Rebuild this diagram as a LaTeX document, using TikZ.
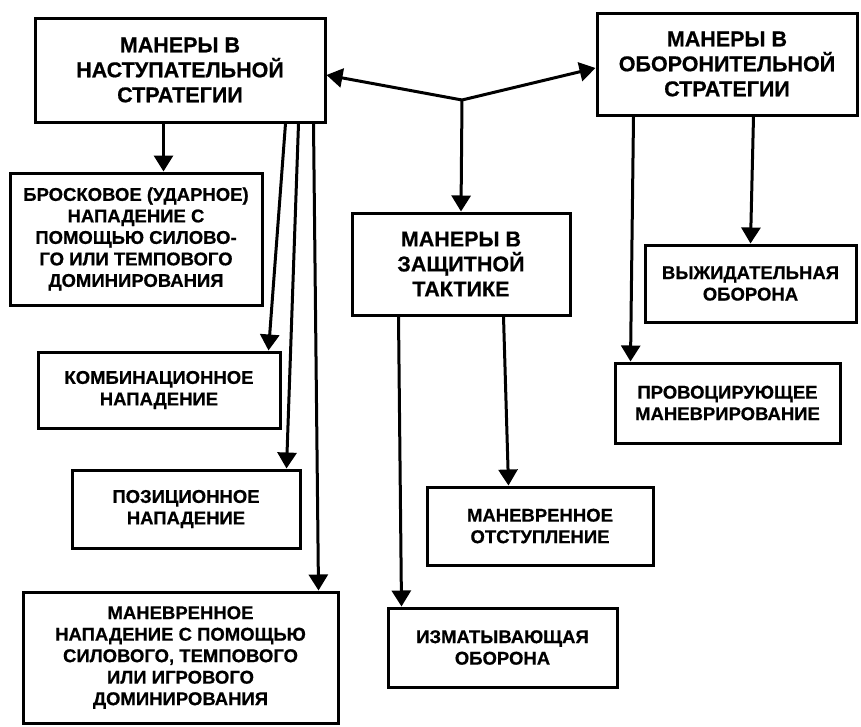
\documentclass[tikz,border=0pt]{standalone}
\usepackage{fontspec}
\setmainfont{Liberation Sans}[BoldFeatures={FakeBold=0.6}]
\usetikzlibrary{arrows.meta}

\begin{document}
\begin{tikzpicture}[x=1pt, y=-1pt, line width=3pt,
  every node/.style = {shape=rectangle, draw, align=center, inner sep=0pt,
    font=\bfseries\fontsize{18.5}{21.5}\selectfont},
  headbox/.style = {font=\bfseries\fontsize{21.5}{25}\selectfont},
  arr/.style = {-{Triangle[length=16pt, width=19pt]}}]
  \useasboundingbox (0,0) rectangle (861,726);
  % top level
  \node[headbox, minimum width=290pt, minimum height=104pt] (off) at (180,70)
    {МАНЕРЫ В\\НАСТУПАТЕЛЬНОЙ\\СТРАТЕГИИ};
  \node[headbox, minimum width=260pt, minimum height=102pt] (def) at (727,64)
    {МАНЕРЫ В\\ОБОРОНИТЕЛЬНОЙ\\СТРАТЕГИИ};
  \node[headbox, minimum width=218pt, minimum height=102pt] (prot) at (461,264)
    {МАНЕРЫ В\\ЗАЩИТНОЙ\\ТАКТИКЕ};
  \coordinate (hub) at (462,100);
  % offensive
  \node[minimum width=252pt, minimum height=132pt] (thrust) at (136,239)
    {БРОСКОВОЕ (УДАРНОЕ)\\НАПАДЕНИЕ С\\ПОМОЩЬЮ СИЛОВО-\\ГО ИЛИ ТЕМПОВОГО\\ДОМИНИРОВАНИЯ};
  \node[minimum width=242pt, minimum height=76pt] (combo) at (159,390)
    {КОМБИНАЦИОННОЕ\\НАПАДЕНИЕ};
  \node[minimum width=228pt, minimum height=78pt] (posit) at (186,509)
    {ПОЗИЦИОННОЕ\\НАПАДЕНИЕ};
  \node[minimum width=315pt, minimum height=131pt] (manoeuvre) at (180.5,657.5)
    {МАНЕВРЕННОЕ\\НАПАДЕНИЕ С ПОМОЩЬЮ\\СИЛОВОГО, ТЕМПОВОГО\\ИЛИ ИГРОВОГО\\ДОМИНИРОВАНИЯ};
  % protective
  \node[minimum width=229pt, minimum height=79pt] (wearing) at (502.5,647.5)
    {ИЗМАТЫВАЮЩАЯ\\ОБОРОНА};
  \node[minimum width=226pt, minimum height=78pt] (retreat) at (540,526)
    {МАНЕВРЕННОЕ\\ОТСТУПЛЕНИЕ};
  % defensive
  \node[minimum width=225pt, minimum height=80pt] (provoke) at (727.5,403)
    {ПРОВОЦИРУЮЩЕЕ\\МАНЕВРИРОВАНИЕ};
  \node[minimum width=211pt, minimum height=77pt] (waiting) at (750.5,283.5)
    {ВЫЖИДАТЕЛЬНАЯ\\ОБОРОНА};

  \draw[arr] (hub) -- ([yshift=-5pt]off.east);
  \draw[arr] (hub) -- ([yshift=-4pt]def.west);
  \draw[arr] (hub) -- (prot.north);
  \draw[arr] ([xshift=130pt]off.south west) -- ([xshift=155pt]thrust.north west);
  \draw[arr] ([xshift=252pt]off.south west) -- ([xshift=232pt]combo.north west);
  \draw[arr] ([xshift=265pt]off.south west) -- ([xshift=216pt]posit.north west);
  \draw[arr] ([xshift=280pt]off.south west) -- ([xshift=297pt]manoeuvre.north west);
  \draw[arr] ([xshift=48pt]prot.south west) -- ([xshift=15pt]wearing.north west);
  \draw[arr] ([xshift=153pt]prot.south west) -- ([xshift=83pt]retreat.north west);
  \draw[arr] ([xshift=38pt]def.south west) -- ([xshift=17pt]provoke.north west);
  \draw[arr] ([xshift=158pt]def.south west) -- ([xshift=107pt]waiting.north west);
\end{tikzpicture}
\end{document}
